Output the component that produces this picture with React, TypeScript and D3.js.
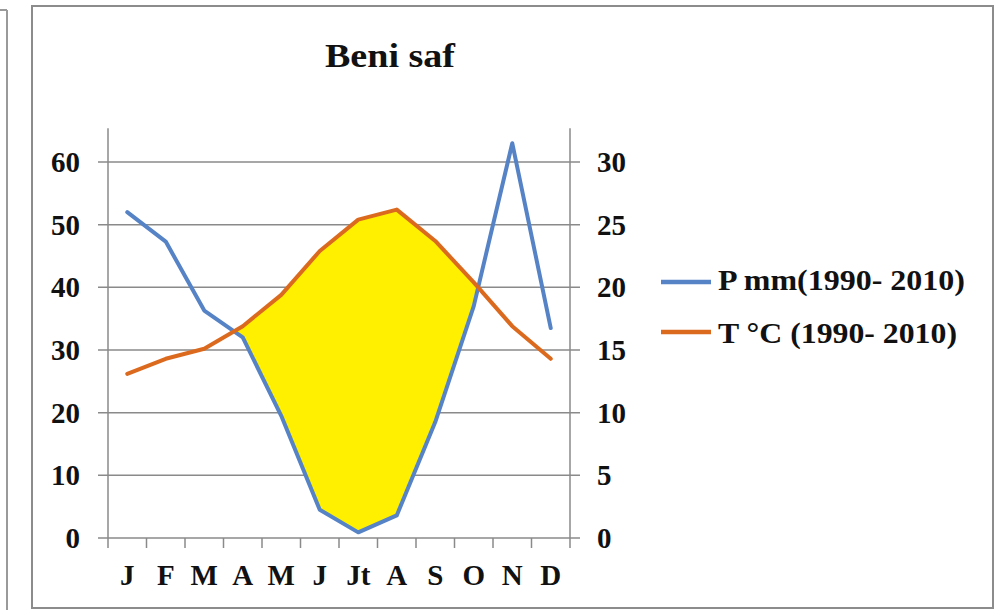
import React from "react";
import * as d3 from "d3";

const months = ["J", "F", "M", "A", "M", "J", "Jt", "A", "S", "O", "N", "D"];
const precip = [52, 47.3, 36.3, 32, 19.5, 4.5, 0.9, 3.6, 18.5, 37, 63, 33.5];
const temp = [13.1, 14.3, 15.1, 16.9, 19.4, 22.9, 25.4, 26.2, 23.7, 20.4, 16.9, 14.3];
const leftTicks = [0, 10, 20, 30, 40, 50, 60];
const rightTicks = [0, 5, 10, 15, 20, 25, 30];
const title = "Beni saf";
const legendLabels = ["P mm(1990- 2010)", "T \u00B0C (1990- 2010)"];

const BLUE = "#5683C6";
const ORANGE = "#DC6A1E";
const YELLOW = "#FFF000";
const GRID = "#8a8a8a";
const FONT = "'Liberation Serif', 'Times New Roman', serif";

export default function App() {
  const left = 108, right = 570, bottom = 538, top60 = 162;
  const x = d3.scaleBand<number>().domain(months.map((_, i) => i)).range([left, right]);
  const cx = (i: number) => (x(i) as number) + x.bandwidth() / 2;
  const yL = d3.scaleLinear().domain([0, 60]).range([bottom, top60]);
  const yR = d3.scaleLinear().domain([0, 30]).range([bottom, top60]);
  const axisTop = yL(65.4);

  const pPts: [number, number][] = precip.map((v, i) => [cx(i), yL(v)]);
  const tPts: [number, number][] = temp.map((v, i) => [cx(i), yR(v)]);
  const line = d3.line<[number, number]>().x(d => d[0]).y(d => d[1]);

  // dry-season polygons where temperature curve (2T) is above precipitation
  const polys: [number, number][][] = [];
  let upper: [number, number][] = [];
  let lower: [number, number][] = [];
  const diff = (i: number) => 2 * temp[i] - precip[i];
  for (let i = 0; i < months.length; i++) {
    const d = diff(i);
    if (i > 0) {
      const dp = diff(i - 1);
      if ((dp <= 0 && d > 0) || (dp > 0 && d <= 0)) {
        const f = dp / (dp - d);
        const xi = cx(i - 1) + f * (cx(i) - cx(i - 1));
        const yi = yL(precip[i - 1] + f * (precip[i] - precip[i - 1]));
        upper.push([xi, yi]);
        lower.push([xi, yi]);
        if (dp > 0) {
          polys.push([...upper, ...lower.reverse()]);
          upper = [];
          lower = [];
        }
      }
    }
    if (d > 0) {
      upper.push(tPts[i]);
      lower.push(pPts[i]);
    }
  }
  if (upper.length) polys.push([...upper, ...lower.reverse()]);

  const ticksX = d3.range(months.length + 1).map(i => left + i * x.bandwidth());

  return (
    <svg width={1000} height={610} style={{ position: "absolute", left: 0, top: 0, background: "#fff" }}>
      <rect x={0} y={0} width={1000} height={610} fill="#fff" />
      {/* neighbouring panel edge */}
      <line x1={7} y1={10} x2={7} y2={610} stroke="#9a9a9a" strokeWidth={2} />
      <line x1={0} y1={10} x2={7} y2={10} stroke="#9a9a9a" strokeWidth={2} />
      {/* frame */}
      <rect x={32} y={6} width={961} height={602} fill="none" stroke="#8c8c8c" strokeWidth={2} />

      <text x={390} y={67} textAnchor="middle" fontFamily={FONT} fontWeight="bold" fontSize={33}
        textLength={130} lengthAdjust="spacingAndGlyphs" fill="#111">{title}</text>

      {/* gridlines */}
      {leftTicks.map(t => (
        <line key={"g" + t} x1={left - 10} x2={right + 10} y1={yL(t)} y2={yL(t)} stroke={GRID} strokeWidth={1.5} />
      ))}
      {/* axes */}
      <line x1={left} x2={left} y1={axisTop} y2={bottom} stroke={GRID} strokeWidth={1.5} />
      <line x1={right} x2={right} y1={axisTop} y2={bottom} stroke={GRID} strokeWidth={1.5} />
      {ticksX.map((t, i) => (
        <line key={"xt" + i} x1={t} x2={t} y1={bottom} y2={bottom + 10} stroke={GRID} strokeWidth={1.5} />
      ))}

      {/* yellow dry period */}
      {polys.map((p, i) => (
        <path key={"poly" + i} d={line(p) + "Z"} fill={YELLOW} stroke="none" />
      ))}

      <path d={line(pPts) || ""} fill="none" stroke={BLUE} strokeWidth={4} strokeLinejoin="round" strokeLinecap="round" />
      <path d={line(tPts) || ""} fill="none" stroke={ORANGE} strokeWidth={4} strokeLinejoin="round" strokeLinecap="round" />

      {/* left labels */}
      {leftTicks.map(t => (
        <text key={"l" + t} x={80} y={yL(t) + 10} textAnchor="end" fontFamily={FONT} fontWeight="bold" fontSize={29} fill="#111">{t}</text>
      ))}
      {rightTicks.map(t => (
        <text key={"r" + t} x={597} y={yR(t) + 10} textAnchor="start" fontFamily={FONT} fontWeight="bold" fontSize={29} fill="#111">{t}</text>
      ))}
      {months.map((m, i) => (
        <text key={"m" + i} x={cx(i)} y={585} textAnchor="middle" fontFamily={FONT} fontWeight="bold" fontSize={29} fill="#111">{m}</text>
      ))}

      {/* legend */}
      <line x1={661} x2={711} y1={282} y2={282} stroke={BLUE} strokeWidth={4.5} />
      <text x={718} y={290} fontFamily={FONT} fontWeight="bold" fontSize={29} textLength={247} lengthAdjust="spacingAndGlyphs" fill="#111">{legendLabels[0]}</text>
      <line x1={661} x2={711} y1={332} y2={332} stroke={ORANGE} strokeWidth={4.5} />
      <text x={718} y={343} fontFamily={FONT} fontWeight="bold" fontSize={29} textLength={239} lengthAdjust="spacingAndGlyphs" fill="#111">{legendLabels[1]}</text>
    </svg>
  );
}
